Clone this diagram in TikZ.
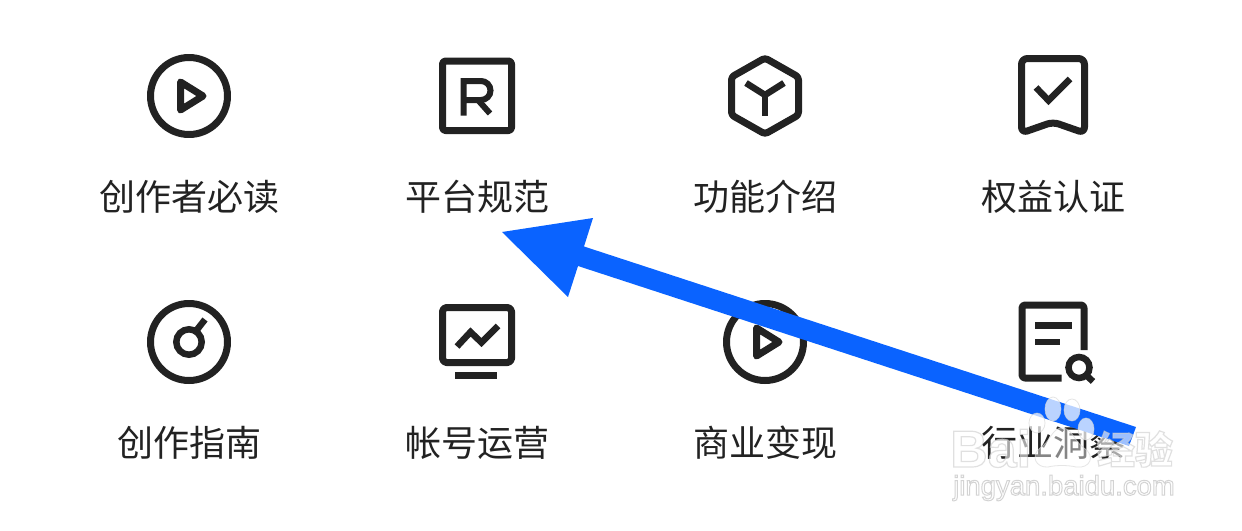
\documentclass[tikz,border=0pt]{standalone}
\usepackage{fontspec}
\setmainfont{Liberation Sans}
\newfontfamily\cjk{Noto Sans CJK SC}
\definecolor{ink}{HTML}{222222}
\definecolor{arrowblue}{HTML}{0A63FF}
\definecolor{wmline}{HTML}{D4D4D4}
\newcommand{\outlinetext}[2]{\special{pdf:code q 2 Tr #1 w 0.8 0.8 0.8 RG 1 1 1 rg}#2\special{pdf:code 0 Tr Q}}
\tikzset{
  icon/.style={draw=ink,line width=7pt,line join=round,fill=none},
  thin icon/.style={draw=ink,line width=6.5pt,line join=miter,fill=none},
  lab/.style={font=\cjk\fontsize{36}{36}\selectfont,text=ink,inner sep=0pt,anchor=center},
  wm/.style={inner sep=0pt,text=white,text opacity=.6},
  paw/.style={fill=white,fill opacity=.72,draw=wmline,draw opacity=.6,line width=.8pt},
  pawbody/.style={fill=white,fill opacity=.45,draw=wmline,draw opacity=.6,line width=.8pt},
}
\begin{document}
\begin{tikzpicture}[x=1pt,y=-1pt]
\useasboundingbox (0,0) rectangle (1242,530);
\fill[white] (0,0) rectangle (1242,530);
% play 1
\draw[icon] (189,96) circle (38.5);
\draw[icon] (180.5,82) -- (180.5,110) -- (203,96) -- cycle;
% R
\draw[icon,rounded corners=3pt] (442.5,61) rectangle (511.5,130.5);
\draw[thin icon,line width=6pt] (463.5,115.5) -- (463.5,81) -- (481,81) arc (-90:90:9.5) -- (463.5,100);
\draw[thin icon,line width=6pt] (478,100) -- (490,113.5);
% hex
\draw[icon,rounded corners=3pt] (765,58) -- (798.5,77) -- (798.5,115) -- (765,134) -- (731.5,115) -- (731.5,77) -- cycle;
\draw[thin icon] (746,83) -- (765,95) -- (784,83);
\draw[thin icon] (765,95) -- (765,115.5);
% bookmark
\draw[icon,rounded corners=6pt] (1021.5,58.5) -- (1084.5,58.5) -- (1084.5,133) -- (1053,122) -- (1021.5,133) -- cycle;
\draw[thin icon] (1036,87.5) -- (1048.5,100.5) -- (1070,79);
% gauge
\draw[icon] (189,342) circle (38.5);
\draw[thin icon] (189,342) circle (12.7);
\draw[thin icon] (196,331) -- (205,319.5);
% monitor
\draw[icon,rounded corners=4pt] (442.5,307.5) rectangle (511.5,362.5);
\draw[thin icon] (457,346.5) -- (470.5,332) -- (481.5,342.5) -- (498,326);
\fill[ink] (454.5,372) rectangle (496.5,379);
% play 2
\draw[icon] (765,342) circle (38.5);
\draw[icon] (756.5,328) -- (756.5,356) -- (779,342) -- cycle;
% doc
\draw[icon,rounded corners=3pt] (1084,350) -- (1084,305) -- (1022,305) -- (1022,378) -- (1061.5,378);
\fill[ink] (1034.5,321.5) rectangle (1071.5,328.5);
\fill[ink] (1034.5,338.5) rectangle (1060,345);
\draw[thin icon] (1079,367.5) circle (10.5);
\draw[thin icon] (1086,375) -- (1093,381.5);
% labels
\node[lab] (a1) at (189,197) {创作者必读};
\node[lab] (a2) at (477,197) {平台规范};
\node[lab] (a3) at (765,197) {功能介绍};
\node[lab] (a4) at (1053,197) {权益认证};
\node[lab] (b1) at (189,443) {创作指南};
\node[lab] (b2) at (477,443) {帐号运营};
\node[lab] (b3) at (765,443) {商业变现};
\node[lab] (b4) at (1053,443) {行业洞察};
% arrow
\coordinate (tip) at (502,232);
\coordinate (h1) at (593,218);
\coordinate (h2) at (568,297);
\coordinate (s1) at (584,246.5);
\coordinate (s2) at (578,266);
\coordinate (e1) at (1136,427);
\coordinate (e2) at (1129,446);
\fill[arrowblue] (tip) -- (h1) -- (s1) -- (e1) -- (e2) -- (s2) -- (h2) -- cycle;
% watermark
\fill[paw,draw] (1053,409) ellipse (8 and 12);
\fill[paw,draw] (1072,410) ellipse (8 and 11);
\fill[paw,draw] (1037,423) ellipse (8 and 10);
\fill[paw,draw] (1086,429) ellipse (8 and 11);
\fill[pawbody,draw] (1062,428) .. controls (1052,428) and (1050,442) .. (1040,448)
  .. controls (1030,456) and (1036,468) .. (1048,467)
  .. controls (1056,465) and (1068,465) .. (1076,467)
  .. controls (1090,469) and (1096,456) .. (1084,448)
  .. controls (1074,441) and (1072,428) .. (1062,428) -- cycle;
\node[wm,anchor=base west] (w1) at (950,467) {\fontsize{52}{52}\bfseries\selectfont\outlinetext{1.2}{Bai}};
\node[wm,anchor=center] (w2) at (1135,449) {\cjk\fontsize{38}{38}\bfseries\selectfont\outlinetext{1.2}{经验}};
\node[wm,anchor=center,text opacity=.85] (w3) at (1064,488) {\fontsize{27.5}{27.5}\selectfont\outlinetext{1}{jingyan.baidu.com}};
\end{tikzpicture}
\end{document}
